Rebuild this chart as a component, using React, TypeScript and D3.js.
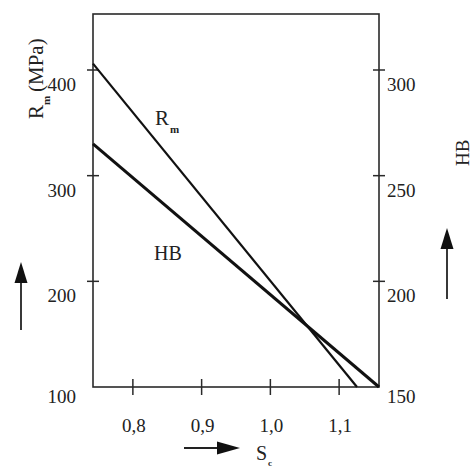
import React from "react";
import * as d3 from "d3";

// Strength and hardness as a function of S_c
const rmLine: [number, number][] = [
  [0.742, 406],
  [1.126, 100],
];
const hbLine: [number, number][] = [
  [0.742, 265],
  [1.158, 150],
];
const xTicks = [0.8, 0.9, 1.0, 1.1];
const leftTicks = [100, 200, 300, 400];
const rightTicks = [150, 200, 250, 300];

const W = 472;
const H = 468;
const plot = { left: 93, right: 379, top: 14, bottom: 387 };

const x = d3.scaleLinear().domain([0.742, 1.158]).range([plot.left, plot.right]);
const yL = d3.scaleLinear().domain([100, 400]).range([plot.bottom, 70]);
const yR = d3.scaleLinear().domain([150, 300]).range([plot.bottom, 70]);

const fmt = (v: number) => v.toFixed(1).replace(".", ",");

const serif = '"Liberation Serif", "DejaVu Serif", serif';
const axisColor = "#2a2a2a";

export default function App() {
  const lineL = d3
    .line<[number, number]>()
    .x((d) => x(d[0]))
    .y((d) => yL(d[1]));
  const lineR = d3
    .line<[number, number]>()
    .x((d) => x(d[0]))
    .y((d) => yR(d[1]));

  return (
    <svg
      width={W}
      height={H}
      style={{ position: "absolute", left: 0, top: 0, background: "#fff", fontFamily: serif }}
    >
      <rect x={0} y={0} width={W} height={H} fill="#fff" />

      {/* frame */}
      <rect
        x={plot.left}
        y={plot.top}
        width={plot.right - plot.left}
        height={plot.bottom - plot.top}
        fill="none"
        stroke={axisColor}
        strokeWidth={1.6}
      />

      {/* left axis ticks */}
      {leftTicks.map((t) => (
        <g key={"l" + t}>
          {t !== 100 && (
            <line x1={plot.left - 6} x2={plot.left + 6} y1={yL(t)} y2={yL(t)} stroke={axisColor} strokeWidth={1.5} />
          )}
          <text x={76} y={yL(t) + (t === 100 ? 16 : 21)} textAnchor="end" fontSize={19} fill="#222">
            {t}
          </text>
        </g>
      ))}

      {/* right axis ticks */}
      {rightTicks.map((t) => (
        <g key={"r" + t}>
          {t !== 150 && (
            <line x1={plot.right - 6} x2={plot.right + 6} y1={yR(t)} y2={yR(t)} stroke={axisColor} strokeWidth={1.5} />
          )}
          <text x={387} y={yR(t) + (t === 150 ? 16 : 21)} textAnchor="start" fontSize={19} fill="#222">
            {t}
          </text>
        </g>
      ))}

      {/* bottom axis ticks */}
      {xTicks.map((t) => (
        <g key={"x" + t}>
          <line x1={x(t)} x2={x(t)} y1={plot.bottom - 8} y2={plot.bottom + 8} stroke={axisColor} strokeWidth={1.5} />
          <text x={x(t) + 1} y={432} textAnchor="middle" fontSize={19} fill="#222">
            {fmt(t)}
          </text>
        </g>
      ))}

      {/* data lines */}
      <path d={lineL(rmLine) ?? ""} fill="none" stroke="#111" strokeWidth={2.2} />
      <path d={lineR(hbLine) ?? ""} fill="none" stroke="#111" strokeWidth={3} />

      {/* series labels */}
      <text x={155} y={125} fontSize={21} fill="#222">
        R
      </text>
      <text x={170} y={133} fontSize={11} fontWeight="bold" fill="#222">
        m
      </text>
      <text x={154} y={260} fontSize={20} fill="#222">
        HB
      </text>

      {/* left axis title */}
      <g transform="translate(43,119) rotate(-90)">
        <text x={0} y={0} fontSize={21} fill="#222">
          R
        </text>
        <text x={14} y={7} fontSize={11} fontWeight="bold" fill="#222">
          m
        </text>
        <text x={27} y={0} fontSize={21} fill="#222">
          (MPa)
        </text>
      </g>

      {/* right axis title */}
      <g transform="translate(469,166) rotate(-90)">
        <text x={0} y={0} fontSize={19} fill="#222">
          HB
        </text>
      </g>

      {/* direction arrows */}
      <line x1={21} x2={21} y1={330} y2={280} stroke="#222" strokeWidth={1.8} />
      <path d="M21,262 L14.5,283 L27.5,283 Z" fill="#111" />

      <line x1={447} x2={447} y1={299} y2={246} stroke="#222" strokeWidth={1.8} />
      <path d="M447,228 L440.5,249 L453.5,249 Z" fill="#111" />

      <line x1={184} x2={220} y1={448} y2={448} stroke="#222" strokeWidth={1.8} />
      <path d="M240,448 L217,441.5 L217,454.5 Z" fill="#111" />

      {/* x axis title */}
      <text x={256} y={460} fontSize={20} fill="#222">
        S
      </text>
      <text x={268} y={466} fontSize={9} fontWeight="bold" fill="#222">
        c
      </text>
    </svg>
  );
}
